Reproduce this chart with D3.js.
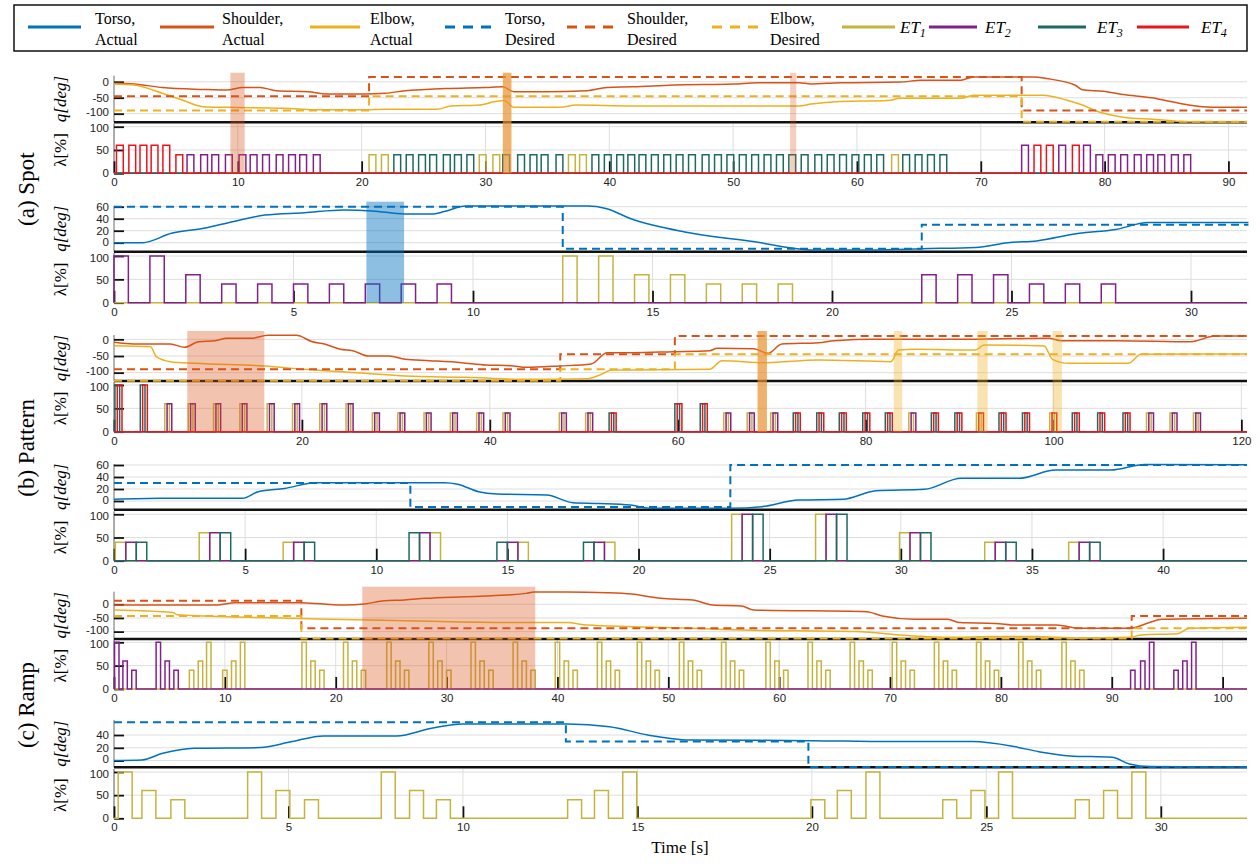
<!DOCTYPE html>
<html>
<head>
<meta charset="utf-8">
<script src="https://cdn.jsdelivr.net/npm/d3@7"></script>
<style>
body { margin: 0; background: #fff; }
text { font-family: "Liberation Sans", Arial, sans-serif; }
.serif { font-family: "Liberation Serif", "Times New Roman", serif; }
</style>
</head>
<body>
<svg id="fig" width="1259" height="864"></svg>
<script>
// Joint angles q [deg] and stimulation intensity lambda [%] for the three protocols

// ---- (a) Spot, arm ----
var spotShoulder = [[0,-5],[1.6,-7],[3.9,-18],[7.2,-24],[9.1,-26],[10.4,-18],[11.8,-18],[13.1,-28],[15.7,-31],[17,-38],[20.2,-38],[21.9,-36],[23.5,-28],[25.1,-24],[26.8,-21],[30,-18],[31.4,-16],[32.3,-31],[34.9,-31],[38.2,-28],[39.8,-18],[41.9,-16],[45.2,-10],[50,-7],[52,-3],[55.3,-3],[56.3,-7],[58.6,-3],[63.5,-1],[65.2,5],[68.4,5],[69.4,15],[74.3,15],[75.3,10],[77.6,-10],[78.2,-25],[79.9,-30],[81.5,-40],[83.8,-50],[85.1,-60],[86.8,-73],[88.7,-80],[91.5,-80]];
var spotElbow = [[0,-7],[1.6,-10],[3.9,-36],[5.5,-57],[7.2,-78],[9.1,-80],[13.6,-83],[17,-88],[20.2,-88],[21.9,-86],[26.1,-86],[27.2,-76],[29.5,-73],[30.8,-62],[31.5,-59],[32.3,-80],[36,-80],[37.3,-73],[41.9,-76],[55.3,-76],[56.3,-70],[58.6,-62],[62.5,-59],[63.5,-52],[68.4,-52],[69.4,-42],[75,-42],[76.9,-57],[78.2,-73],[79.5,-94],[81.5,-111],[84.1,-118],[86.5,-125],[91.5,-126]];
var spotShoulderDes = [[0,-45],[20.6,15],[73.3,-90],[91.5,-90]];
var spotElbowDes = [[0,-90],[20.6,-45],[73.3,-125],[91.5,-125]];
var spotArmPulses = [
  [0.2,60,4],[1.2,60,4],[2.1,60,4],[3.0,60,4],[3.95,60,4],
  [5.0,40,4],[5.9,40,2],[7.0,40,2],[7.9,40,2],[9.0,40,2],[10.1,40,2],[11.0,40,2],[12.0,40,2],[13.1,40,2],[14.1,40,2],[15.0,40,2],[16.1,40,2],
  [20.6,40,1],[21.6,40,1],[22.6,40,3],[23.6,40,3],[24.6,40,3],[25.5,40,3],[26.6,40,3],[27.5,40,3],[28.5,40,3],[29.5,40,1],[30.6,40,1],[31.4,40,3],
  [32.6,40,3],[33.6,40,3],[34.5,40,3],[35.7,40,3],[36.7,40,1],[37.6,40,1],[38.6,40,3],[39.6,40,3],[40.6,40,3],[41.5,40,3],[42.4,40,3],[43.4,40,3],
  [44.4,40,3],[45.4,40,3],[46.4,40,3],[47.5,40,3],[48.5,40,3],[49.5,40,3],[50.5,40,3],[51.5,40,3],[52.5,40,3],[53.5,40,3],[54.5,40,3],[55.5,40,3],
  [56.6,40,3],[57.6,40,3],[58.6,40,3],[59.6,40,3],[60.6,40,3],[61.6,40,3],[62.8,40,1],[63.7,40,3],[64.7,40,3],[65.7,40,3],[66.7,40,3],
  [73.3,60,2],[74.3,60,4],[75.3,60,4],[76.3,60,2],[77.4,60,4],[78.3,60,2],
  [79.3,40,2],[80.3,40,2],[81.3,40,2],[82.4,40,2],[83.4,40,2],[84.3,40,2],[85.4,40,2],[86.4,40,2]
];

// ---- (a) Spot, torso ----
var spotTorso = [[0,0],[0.8,0],[1.6,15.6],[2.5,24],[3.3,35],[4.2,46],[5.3,50],[6.4,54.5],[7.2,53],[8.1,48],[8.9,48],[9.2,52],[9.8,61],[13.2,61],[13.7,57],[14.4,40],[15.9,18],[17.8,2],[19.5,-12],[21.2,-12],[22.5,-10],[24,-8],[24.9,0],[25.7,3],[26.8,15],[27.9,22],[28.8,33.5],[31.6,33.5]];
var spotTorsoDes = [[0,60],[12.5,-10],[22.5,30],[31.6,30]];
var spotTorsoPulses = [
  [0.0,100,2],[1.0,100,2],[2.0,60,2],[3.0,40,2],[4.0,40,2],[5.0,40,2],[6.0,40,2],[7.0,40,2],[8.0,40,2],[9.0,40,2],
  [12.5,100,1],[13.5,100,1],[14.5,60,1],[15.5,60,1],[16.5,40,1],[17.5,40,1],[18.5,40,1],
  [22.5,60,2],[23.5,60,2],[24.5,60,2],[25.5,40,2],[26.5,40,2],[27.5,40,2]
];

// ---- (b) Pattern, arm ----
var patShoulder = [[0,-9],[2.1,-14],[6,-14],[7.5,-24],[9,-7],[10.8,-4],[12,3],[14.6,3],[16.4,12],[19.4,12],[21.1,-7],[22.4,-14],[24.1,-30],[25.4,-34],[27.1,-50],[29.3,-50],[31,-60],[33.6,-64],[37,-70],[39.6,-77],[42.2,-79],[43.9,-84],[47.4,-80],[50.8,-74],[52.5,-40],[55.2,-40],[59.5,-37],[63.4,-34],[64.2,-27],[68.1,-28],[69.6,-42],[71.1,-14],[75,-10],[76.7,-4],[81,0],[89.6,0],[99.5,3],[100.8,-4],[106.8,-4],[114.6,-7],[117.2,10],[120.6,10]];
var patElbow = [[0,-19],[3.9,-22],[4.5,-52],[6,-67],[8.6,-72],[16,-80],[20.3,-90],[26.7,-102],[31,-110],[37.5,-114],[44,-120],[50.4,-118],[51.7,-107],[53,-92],[55.2,-92],[63.4,-90],[64.7,-64],[69.4,-70],[75,-62],[82.7,-67],[83.5,-32],[85.3,-30],[91.7,-32],[92.6,-17],[99,-20],[99.9,-60],[101.6,-72],[108,-72],[109.3,-45],[120.6,-44]];
var patShoulderDes = [[0,-90],[47.5,-45],[59.7,10],[120.6,10]];
var patElbowDes = [[0,-124],[47.5,-90],[59.7,-45],[120.6,-45]];
// each entry: start, amplitude, first ET, second ET (the second starts a quarter second later)
var patArmPairs = [
  [0.1,100,3,4],[2.8,100,3,4],[5.4,60,1,2],[7.9,60,1,2],[10.6,60,1,2],[13.4,60,1,2],[16.3,60,1,2],[19.0,60,1,2],[21.9,60,1,2],[24.7,60,1,2],
  [27.5,40,1,2],[30.2,40,1,2],[33.0,40,1,2],[35.8,40,1,2],[38.6,40,1,2],[41.4,40,1,2],[47.4,40,1,2],[50.2,40,1,2],[52.7,40,3,4],
  [59.7,60,3,4],[62.4,60,3,4],[64.9,40,1,2],[67.4,40,1,2],[69.9,40,1,2],[72.3,40,3,4],[74.8,40,3,4],[77.2,40,3,4],[79.7,40,3,4],[82.1,40,3,4],
  [84.6,40,1,2],[87.0,40,3,4],[89.5,40,3,4],[91.8,40,1,4],[94.2,40,3,4],[96.7,40,3,4],[99.6,40,1,4],[102.0,40,3,4],[104.7,40,3,4],[107.4,40,3,4],
  [109.9,40,1,2],[112.4,40,1,2],[114.9,40,1,2]
];

// ---- (b) Pattern, torso ----
var patTorso = [[0,2.8],[1.8,4.4],[4.9,4.4],[5.5,15.5],[6.5,21],[7.7,30.5],[12.6,30.5],[13.1,28],[13.9,15.5],[14.6,11.7],[16.5,10],[17.5,-2.8],[18.5,-4],[19.7,-6.7],[20.4,-12],[23.5,-12],[24.7,-9.4],[26.1,1.7],[27.8,2.8],[29.05,17],[30.9,19.4],[32.3,37.8],[34.5,37.8],[35.9,51.7],[38,51.7],[39.3,61],[43.2,60.5]];
var patTorsoDes = [[0,30],[11.3,-10],[23.5,60],[43.2,60]];
var patTorsoPulses = [
  [0.05,40,1],[0.45,40,2],[0.85,40,3],
  [3.25,60,1],[3.65,60,2],[4.05,60,3],
  [6.45,40,1],[6.85,40,2],[7.25,40,3],
  [11.25,60,3],[11.65,60,2],[12.05,60,1],
  [14.6,40,3],[15.0,40,2],[15.4,40,1],
  [17.9,40,3],[18.3,40,2],[18.7,40,1],
  [23.55,100,1],[23.95,100,2],[24.35,100,3],
  [26.75,100,1],[27.15,100,2],[27.55,100,3],
  [29.95,60,1],[30.35,60,2],[30.75,60,3],
  [33.2,40,1],[33.6,40,2],[34.0,40,3],
  [36.4,40,1],[36.8,40,2],[37.2,40,3]
];

// ---- (c) Ramp, arm ----
var rampShoulder = [[0,-2.6],[9.4,-2.6],[10.9,5.8],[16.8,5.8],[18.9,0.9],[20.8,-2.6],[22.6,1],[24.4,13.2],[26.2,15.6],[28.1,21.7],[31.7,27.7],[35.4,33.8],[37.2,39.9],[37.9,44.8],[40.8,44.8],[44.5,42.3],[46.7,37.5],[49.3,21.7],[52.2,15.6],[54,-2.6],[56.6,-6.3],[57.7,-21],[67.9,-27],[69.3,-43],[72.2,-55],[75.2,-55],[76.3,-67],[79.5,-70],[81.4,-76],[85,-76],[87.2,-88],[91.6,-88],[93.4,-67],[94.5,-55],[102.2,-51]];
var rampElbow = [[0,-20.8],[5.3,-30],[5.7,-38],[8.3,-43],[15.6,-51],[19.3,-55],[26.2,-60],[37.2,-67],[40.8,-67],[42.7,-76],[46.7,-82],[52.2,-88],[56.6,-94],[66.9,-100],[72.2,-116],[75.2,-121],[79.5,-118],[83.1,-118],[86.8,-124],[91.6,-121],[92.7,-112],[95.9,-108],[97,-88],[102.2,-84]];
var rampShoulderDes = [[0,13],[16.9,-88],[91.8,-43],[102.2,-43]];
var rampElbowDes = [[0,-43],[16.9,-125],[91.8,-88],[102.2,-88]];
var rampArmPulses = [
  [0.05,100,2],[0.8,60,2],[1.6,40,2],[3.8,100,2],[4.6,60,2],[5.4,40,2],
  [6.8,40,1],[7.6,60,1],[8.35,100,1],[9.8,40,1],[10.6,60,1],[11.4,100,1],
  [16.95,100,1],[17.75,60,1],[18.55,40,1],[20.7,100,1],[21.5,60,1],[22.3,40,1],
  [24.6,100,1],[25.4,60,1],[26.2,40,1],[28.4,100,1],[29.2,60,1],[30.0,40,1],
  [32.2,100,1],[33.0,60,1],[33.8,40,1],[36.0,100,1],[36.8,60,1],[37.6,40,1],
  [39.8,100,1],[40.6,60,1],[41.4,40,1],[43.6,100,1],[44.4,60,1],[45.2,40,1],
  [47.2,100,1],[48.0,60,1],[48.8,40,1],[51.0,100,1],[51.8,60,1],[52.6,40,1],
  [54.8,100,1],[55.6,60,1],[56.4,40,1],[58.8,100,1],[59.6,60,1],[60.4,40,1],
  [62.6,100,1],[63.4,60,1],[64.2,40,1],[66.4,100,1],[67.2,60,1],[68.0,40,1],
  [70.2,100,1],[71.0,60,1],[71.8,40,1],[74.0,100,1],[74.8,60,1],[75.6,40,1],
  [77.8,100,1],[78.6,60,1],[79.4,40,1],[81.6,100,1],[82.4,60,1],[83.2,40,1],
  [85.5,100,1],[86.3,60,1],[87.1,40,1],
  [91.7,40,2],[92.6,60,2],[93.4,100,2],[95.6,40,2],[96.4,60,2],[97.2,100,2]
];

// ---- (c) Ramp, torso ----
var rampTorso = [[0,0],[0.8,1],[1.4,11.5],[2.3,19.3],[4.2,20.4],[5.1,29.7],[6.0,38.6],[8.1,38.6],[9.1,50.6],[10.0,57.4],[13.0,57.4],[14.2,53],[15.3,40],[16.5,32.3],[20.0,31.2],[22.3,29.7],[24.6,29.7],[25.8,21.9],[26.5,14],[27.4,7.3],[28.6,5.2],[29.1,-5.2],[29.7,-9.4],[32.47,-10]];
var rampTorsoDes = [[0,60],[12.95,30],[19.9,-10],[32.47,-10]];
var rampTorsoPulses = [
  [0.12,100,1],[0.8,60,1],[1.63,40,1],[3.83,100,1],[4.64,60,1],[5.46,40,1],[7.66,100,1],[8.47,60,1],[9.24,40,1],
  [13.0,40,1],[13.77,60,1],[14.58,100,1],[19.97,40,1],[20.73,60,1],[21.55,100,1],
  [23.75,40,1],[24.56,60,1],[25.35,100,1],[27.55,40,1],[28.36,60,1],[29.17,100,1]
];

var armTicks = [-100, -50, 0];
var torsoTicks = [0, 20, 40, 60];
var lambdaTicks = [0, 50, 100];
var groupLabels = ["(a) Spot", "(b) Pattern", "(c) Ramp"];

var colTorso = "#0072BD", colShoulder = "#D95319", colElbow = "#EDB120";
var etColor = {1: "#c4b43e", 2: "#82218c", 3: "#1d6b60", 4: "#e9141c"};
var salmon = "rgba(217,83,25,0.35)", orange = "rgba(232,145,45,0.7)",
    paleYellow = "rgba(237,177,32,0.35)", blue = "rgba(0,114,189,0.45)";

var X0 = 114, X1 = 1247;

var patArmPulses = [];
patArmPairs.forEach(function (d) {
  patArmPulses.push([d[0], d[1], d[2]]);
  patArmPulses.push([d[0] + 0.25, d[1], d[3]]);
});

var panels = [
  { xMax: 91.5, xStep: 10, qTop: 75.7, qBot: 122.3, qDom: [-127, 19], qTicks: armTicks,
    lTop: 126.7, lBot: 173.3, pulses: spotArmPulses, pw: 0.55, ets: [1, 2, 3, 4],
    lines: [[spotShoulder, colShoulder, false], [spotElbow, colElbow, false],
            [spotShoulderDes, colShoulder, true], [spotElbowDes, colElbow, true]],
    shadeTop: 72.7, shades: [[9.4, 10.55, salmon], [31.4, 32.1, orange], [54.6, 55.1, "rgba(217,83,25,0.28)"]] },
  { xMax: 31.56, xStep: 5, qTop: 205.7, qBot: 251.7, qDom: [-15, 61.7], qTicks: torsoTicks,
    lTop: 256, lBot: 302.7, pulses: spotTorsoPulses, pw: 0.4, ets: [1, 2],
    lines: [[spotTorso, colTorso, false], [spotTorsoDes, colTorso, true]],
    shadeTop: 201.7, shades: [[7.03, 8.08, blue]] },
  { xMax: 120.6, xStep: 20, qTop: 335, qBot: 381, qDom: [-125, 13], qTicks: armTicks,
    lTop: 385, lBot: 431.7, pulses: patArmPulses, pw: 0.5, ets: [1, 2, 3, 4],
    lines: [[patShoulder, colShoulder, false], [patElbow, colElbow, false],
            [patShoulderDes, colShoulder, true], [patElbowDes, colElbow, true]],
    shadeTop: 331, shades: [[7.8, 16.0, salmon], [68.5, 69.5, orange], [83.0, 83.9, paleYellow], [91.9, 93.0, paleYellow], [99.9, 100.9, paleYellow]] },
  { xMax: 43.2, xStep: 5, qTop: 464, qBot: 509.7, qDom: [-14.5, 61.7], qTicks: torsoTicks,
    lTop: 514.3, lBot: 560.7, pulses: patTorsoPulses, pw: 0.4, ets: [1, 2, 3],
    lines: [[patTorso, colTorso, false], [patTorsoDes, colTorso, true]],
    shadeTop: 464, shades: [] },
  { xMax: 102.2, xStep: 10, qTop: 591.7, qBot: 639, qDom: [-127, 46], qTicks: armTicks,
    lTop: 642.3, lBot: 689, pulses: rampArmPulses, pw: 0.4, ets: [1, 2],
    lines: [[rampShoulder, colShoulder, false], [rampElbow, colElbow, false],
            [rampShoulderDes, colShoulder, true], [rampElbowDes, colElbow, true]],
    shadeTop: 586.7, shades: [[22.4, 38.0, salmon]] },
  { xMax: 32.47, xStep: 5, qTop: 720, qBot: 767.3, qDom: [-10.5, 63.5], qTicks: [0, 20, 40],
    lTop: 772, lBot: 818.3, pulses: rampTorsoPulses, pw: 0.4, ets: [1],
    lines: [[rampTorso, colTorso, false], [rampTorsoDes, colTorso, true]],
    shadeTop: 720, shades: [] }
];

var svg = d3.select("#fig");

// step trace of one electrode: zero everywhere except its pulses
var pulseTrace = function (pulses, et, width, xMax) {
  var pts = [[0, 0]];
  pulses.filter(function (d) { return d[2] === et; })
    .sort(function (a, b) { return a[0] - b[0]; })
    .forEach(function (d) {
      pts.push([d[0], 0], [d[0], d[1]], [d[0] + width, d[1]], [d[0] + width, 0]);
    });
  pts.push([xMax, 0]);
  return pts;
};

var plainNum = function (d) { return String(d); };

panels.forEach(function (p) {
  var x = d3.scaleLinear().domain([0, p.xMax]).range([X0, X1]);
  var yq = d3.scaleLinear().domain(p.qDom).range([p.qBot, p.qTop]);
  var yl = d3.scaleLinear().domain([0, 100]).range([p.lBot, p.lTop]);
  var g = svg.append("g");
  var xTicks = d3.range(0, p.xMax + 1e-6, p.xStep);

  // grids
  g.append("g").selectAll("line").data(p.qTicks).join("line")
    .attr("x1", X0).attr("x2", X1).attr("y1", yq).attr("y2", yq)
    .attr("stroke", "#dedede");
  g.append("g").selectAll("line").data([50, 100]).join("line")
    .attr("x1", X0).attr("x2", X1).attr("y1", yl).attr("y2", yl)
    .attr("stroke", "#dedede");
  g.append("g").selectAll("line").data(xTicks).join("line")
    .attr("x1", x).attr("x2", x).attr("y1", p.lTop - 3).attr("y2", p.lBot)
    .attr("stroke", "#dedede");

  // left axis lines and the heavy bottom line of the q axes
  g.append("line").attr("x1", X0).attr("x2", X0).attr("y1", p.qTop).attr("y2", p.qBot)
    .attr("stroke", "#444").attr("stroke-width", 0.8);
  g.append("line").attr("x1", X0).attr("x2", X0).attr("y1", p.lTop - 3).attr("y2", p.lBot)
    .attr("stroke", "#444").attr("stroke-width", 0.8);
  g.append("line").attr("x1", X0).attr("x2", X1).attr("y1", p.qBot).attr("y2", p.qBot)
    .attr("stroke", "#111").attr("stroke-width", 2.6);

  // axes with inward ticks
  var aq = g.append("g").attr("transform", "translate(" + X0 + ",0)")
    .call(d3.axisLeft(yq).tickValues(p.qTicks).tickSize(-10).tickPadding(5).tickFormat(plainNum));
  var al = g.append("g").attr("transform", "translate(" + X0 + ",0)")
    .call(d3.axisLeft(yl).tickValues(lambdaTicks).tickSize(-10).tickPadding(5).tickFormat(plainNum));
  var ax = g.append("g").attr("transform", "translate(0," + p.lBot + ")")
    .call(d3.axisBottom(x).tickValues(xTicks).tickSize(-12).tickPadding(5).tickFormat(plainNum));
  [aq, al, ax].forEach(function (a) {
    a.select(".domain").remove();
    a.selectAll(".tick line").attr("stroke", "#111").attr("stroke-width", 1.8);
    a.selectAll(".tick text").attr("font-size", 11.5).attr("fill", "#222")
      .attr("font-family", "'Liberation Sans', Arial, sans-serif");
  });
  // the lowest q label and the top lambda label sit close together: nudge them apart
  var qMin = d3.min(p.qTicks);
  aq.selectAll(".tick").filter(function (d) { return d === qMin; }).select("text").attr("dy", "0.2em");
  al.selectAll(".tick").filter(function (d) { return d === 100; }).select("text").attr("dy", "0.45em");

  // joint angles
  p.lines.forEach(function (s) {
    var line = d3.line().x(function (d) { return x(d[0]); }).y(function (d) { return yq(d[1]); })
      .curve(s[2] ? d3.curveStepAfter : d3.curveMonotoneX);
    g.append("path").datum(s[0]).attr("d", line).attr("fill", "none")
      .attr("stroke", s[1]).attr("stroke-width", s[2] ? 2 : 1.5)
      .attr("stroke-dasharray", s[2] ? "8,5" : null);
  });

  // stimulation
  var lline = d3.line().x(function (d) { return x(d[0]); }).y(function (d) { return yl(d[1]); });
  p.ets.forEach(function (et) {
    g.append("path").datum(pulseTrace(p.pulses, et, p.pw, p.xMax)).attr("d", lline)
      .attr("fill", "none").attr("stroke", etColor[et]).attr("stroke-width", 1.5);
  });

  // highlighted windows
  g.append("g").selectAll("rect").data(p.shades).join("rect")
    .attr("x", function (d) { return x(d[0]); })
    .attr("width", function (d) { return x(d[1]) - x(d[0]); })
    .attr("y", p.shadeTop).attr("height", p.lBot - p.shadeTop)
    .attr("fill", function (d) { return d[2]; });

  // y labels
  g.append("text").attr("class", "serif").attr("font-size", 17).attr("font-style", "italic")
    .attr("text-anchor", "middle")
    .attr("transform", "translate(66," + (p.qTop + p.qBot) / 2 + ") rotate(-90)").text("q[deg]");
  g.append("text").attr("class", "serif").attr("font-size", 17).attr("text-anchor", "middle")
    .attr("transform", "translate(66," + (p.lTop + p.lBot) / 2 + ") rotate(-90)").text("λ[%]");
});

groupLabels.forEach(function (lab, i) {
  var mid = (panels[2 * i].qTop + panels[2 * i + 1].lBot) / 2;
  svg.append("text").attr("class", "serif").attr("font-size", 23).attr("text-anchor", "middle")
    .attr("transform", "translate(34," + mid + ") rotate(-90)").text(lab);
});

svg.append("text").attr("class", "serif").attr("font-size", 17).attr("text-anchor", "middle")
  .attr("x", 680).attr("y", 853).text("Time [s]");

// legend
var legendItems = [
  { x1: 28, x2: 81, tx: 95, c: colTorso, dash: false, t: ["Torso,", "Actual"] },
  { x1: 160, x2: 214, tx: 222, c: colShoulder, dash: false, t: ["Shoulder,", "Actual"] },
  { x1: 310, x2: 360, tx: 370, c: colElbow, dash: false, t: ["Elbow,", "Actual"] },
  { x1: 445, x2: 493, tx: 505, c: colTorso, dash: true, t: ["Torso,", "Desired"] },
  { x1: 567, x2: 615, tx: 627, c: colShoulder, dash: true, t: ["Shoulder,", "Desired"] },
  { x1: 712, x2: 760, tx: 770, c: colElbow, dash: true, t: ["Elbow,", "Desired"] },
  { x1: 842, x2: 895, tx: 900, c: etColor[1], et: 1 },
  { x1: 929, x2: 977, tx: 985, c: etColor[2], et: 2 },
  { x1: 1038, x2: 1086, tx: 1097, c: etColor[3], et: 3 },
  { x1: 1137, x2: 1189, tx: 1201, c: etColor[4], et: 4 }
];
var lg = svg.append("g");
lg.append("rect").attr("x", 14).attr("y", 5).attr("width", 1233).attr("height", 46)
  .attr("fill", "#fff").attr("stroke", "#111").attr("stroke-width", 1.5);
legendItems.forEach(function (d) {
  lg.append("line").attr("x1", d.x1).attr("x2", d.x2).attr("y1", 27).attr("y2", 27)
    .attr("stroke", d.c).attr("stroke-width", 3).attr("stroke-dasharray", d.dash ? "10,8" : null);
  if (d.et) {
    var t = lg.append("text").attr("class", "serif").attr("font-size", 17).attr("font-style", "italic")
      .attr("x", d.tx).attr("y", 33);
    t.append("tspan").text("ET");
    t.append("tspan").attr("font-size", 12).attr("dy", 4).text(d.et);
  } else {
    lg.append("text").attr("class", "serif").attr("font-size", 16).attr("x", d.tx).attr("y", 24).text(d.t[0]);
    lg.append("text").attr("class", "serif").attr("font-size", 16).attr("x", d.tx).attr("y", 45).text(d.t[1]);
  }
});
</script>
</body>
</html>
